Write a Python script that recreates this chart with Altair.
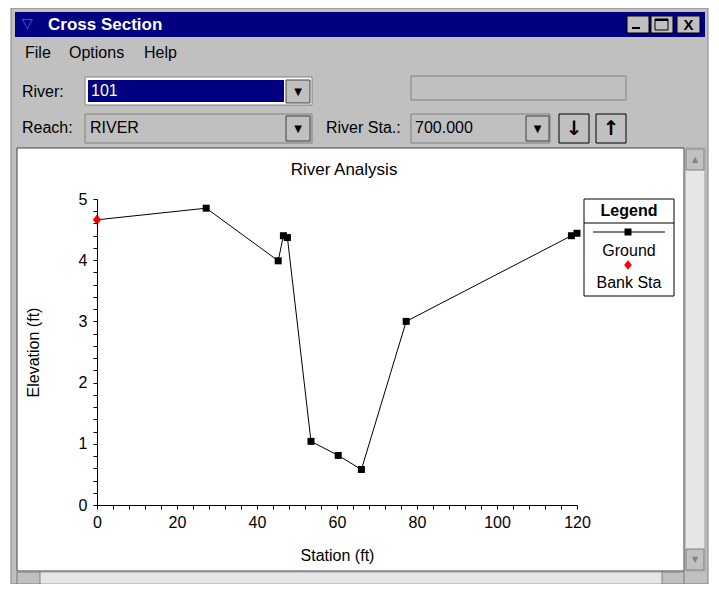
import altair as alt
import pandas as pd

# ---------------- data ----------------
station = [0.0, 27.3, 45.3, 46.6, 47.6, 53.5, 60.3, 66.1, 77.3, 118.6, 120.0]
elevation = [4.66, 4.85, 3.99, 4.40, 4.37, 1.04, 0.81, 0.58, 3.00, 4.40, 4.44]
bank_station = [0.0]
bank_elevation = [4.66]

chart_title = "River Analysis"
x_title = "Station (ft)"
y_title = "Elevation (ft)"
legend_title = "Legend"
legend_labels = ["Ground", "Bank Sta"]

window_title = "Cross Section"
menu_items = ["File", "Options", "Help"]
river_label, river_value = "River:", "101"
reach_label, reach_value = "Reach:", "RIVER"
sta_label, sta_value = "River Sta.:", "700.000"

x_tick_values = list(range(0, 121, 4))
y_tick_values = [round(i * 0.2, 1) for i in range(26)]

FONT = "Liberation Sans"
SYM = "DejaVu Sans"
DIAMOND = "M-1,0L0,-1.25L1,0L0,1.25Z"

# ---------------- layout ----------------
PAD_L, PAD_T, W, H = 89, 191, 480, 306
TOTAL_W, TOTAL_H = 703, 576
OX, OY = 8 + PAD_L, 8 + PAD_T   # page position of plot origin

ONE = alt.Data(values=[{"a": 1}])


def rect(x0, y0, x1, y1, fill, stroke=None, sw=1):
    kw = dict(fill=fill)
    if stroke:
        kw.update(stroke=stroke, strokeWidth=sw)
    return alt.Chart(ONE).mark_rect(**kw).encode(
        x=alt.value(x0 - OX), x2=alt.value(x1 - OX),
        y=alt.value(y0 - OY), y2=alt.value(y1 - OY))


def hline(x0, x1, y, color="black", sw=1):
    return alt.Chart(ONE).mark_rule(color=color, strokeWidth=sw).encode(
        x=alt.value(x0 - OX), x2=alt.value(x1 - OX), y=alt.value(y - OY))


def text(x, y, s, size=16, bold=False, color="black", align="left", font=FONT):
    return alt.Chart(ONE).mark_text(
        text=s, fontSize=size, font=font, fontWeight="bold" if bold else "normal",
        color=color, align=align, baseline="middle").encode(
        x=alt.value(x - OX), y=alt.value(y - OY))


layers = []
# window
layers.append(rect(11, 8, 708, 584, "#c0c0c0", "#808080"))
layers.append(rect(15, 12, 705, 37, "#000080"))
layers.append(text(48, 25, window_title, size=17, bold=True, color="white"))
layers.append(text(22, 24, "▽", size=14, color="#4060ff", font=SYM))
for bx0, bx1 in [(627, 649), (651, 673), (677, 700)]:
    layers.append(rect(bx0, 16, bx1, 33, "#c0c0c0", "#000000"))
layers.append(rect(632, 27, 640, 29, "black"))
layers.append(rect(655, 19, 668, 30, "#c0c0c0", "black"))
layers.append(rect(655, 19, 668, 21, "black"))
layers.append(text(688.5, 25, "X", size=15, bold=True, align="center"))

# menu
for label, mx in zip(menu_items, [25, 69, 144]):
    layers.append(text(mx, 53, label))

# River row
layers.append(text(22, 92, river_label))
layers.append(rect(85, 77, 312, 105, "white", "#808080"))
layers.append(rect(88, 80, 284, 102, "#000080"))
layers.append(text(91, 91, river_value, color="white"))
layers.append(rect(286, 80, 310, 103, "#c0c0c0", "#404040"))
layers.append(text(298, 92, "▼", size=10, align="center", font=SYM))
layers.append(rect(411, 76, 626, 100, "#c0c0c0", "#808080"))

# Reach row
layers.append(text(22, 128, reach_label))
layers.append(rect(85, 114, 312, 143, "#c0c0c0", "#808080"))
layers.append(text(90, 128, reach_value))
layers.append(rect(286, 116, 310, 141, "#c0c0c0", "#404040"))
layers.append(text(298, 129, "▼", size=10, align="center", font=SYM))
layers.append(text(326, 128, sta_label))
layers.append(rect(411, 114, 550, 143, "#c0c0c0", "#808080"))
layers.append(text(415, 128, sta_value))
layers.append(rect(526, 116, 549, 141, "#c0c0c0", "#404040"))
layers.append(text(537.5, 129, "▼", size=10, align="center", font=SYM))
layers.append(rect(559, 114, 589, 143, "#c0c0c0", "black"))
layers.append(rect(596, 114, 626, 143, "#c0c0c0", "black"))
layers.append(text(574, 129, "↓", size=20, bold=True, align="center", font=SYM))
layers.append(text(611, 129, "↑", size=20, bold=True, align="center", font=SYM))

# chart panel + scrollbars
layers.append(rect(17, 148, 684, 571, "white", "#404040"))
layers.append(rect(685, 148, 705, 571, "#e6e6e6", "#a0a0a0"))
layers.append(rect(686, 149, 704, 170, "#c0c0c0", "#808080"))
layers.append(text(695, 160, "▲", size=8, color="#808080", align="center", font=SYM))
layers.append(rect(686, 549, 704, 570, "#c0c0c0", "#808080"))
layers.append(text(695, 560, "▼", size=8, color="#808080", align="center", font=SYM))
layers.append(rect(17, 572, 684, 584, "#e6e6e6", "#a0a0a0"))
layers.append(rect(17, 572, 40, 584, "#c0c0c0", "#808080"))
layers.append(rect(662, 572, 684, 584, "#c0c0c0", "#808080"))

# chart title
layers.append(text(344, 170, chart_title, size=17, align="center"))

# ---------------- data layers ----------------
ground = pd.DataFrame({"station": station, "elevation": elevation,
                       "order": list(range(len(station)))})
bank = pd.DataFrame({"station": bank_station, "elevation": bank_elevation})

x_enc = alt.X("station:Q", title=x_title,
              scale=alt.Scale(domain=[0, 120], nice=False, zero=False),
              axis=alt.Axis(values=x_tick_values, grid=False, zindex=1,
                            labelExpr="datum.value % 20 == 0 ? datum.label : ''",
                            tickSize=4, labelPadding=5, titlePadding=17,
                            domainColor="black", tickColor="black",
                            labelColor="black", titleColor="black",
                            labelFont=FONT, titleFont=FONT, labelFontSize=16,
                            titleFontSize=16, titleFontWeight="normal",
                            labelFlush=False))
y_enc = alt.Y("elevation:Q", title=y_title,
              scale=alt.Scale(domain=[0, 5], nice=False, zero=False),
              axis=alt.Axis(values=y_tick_values, grid=False, zindex=1,
                            labelExpr="abs(datum.value - round(datum.value)) < 0.001 ? format(datum.value, 'd') : ''",
                            tickSize=4, labelPadding=6, titlePadding=37,
                            domainColor="black", tickColor="black",
                            labelColor="black", titleColor="black",
                            labelFont=FONT, titleFont=FONT, labelFontSize=16,
                            titleFontSize=16, titleFontWeight="normal",
                            labelFlush=False))

line = alt.Chart(ground).mark_line(color="black", strokeWidth=1).encode(
    x=x_enc, y=y_enc, order="order:Q")
# the point at a bank station is drawn as the red bank marker only
squares = alt.Chart(ground).mark_square(color="black", size=49, opacity=1).encode(
    x=x_enc, y=y_enc).transform_filter(alt.datum.station > 0)
banks = alt.Chart(bank).mark_point(shape=DIAMOND, filled=True,
                                   color="red", size=70, opacity=1).encode(
    x=x_enc, y=y_enc)
layers += [line, squares, banks]

# ---------------- legend box ----------------
layers.append(rect(584, 199, 674, 296, "white", "black"))
layers.append(hline(584, 674, 223))
layers.append(text(629, 211, legend_title, bold=True, align="center"))
layers.append(hline(593, 665, 232))
layers.append(alt.Chart(ONE).mark_square(color="black", size=49, opacity=1).encode(
    x=alt.value(628 - OX), y=alt.value(232 - OY)))
layers.append(text(629, 251, legend_labels[0], align="center"))
layers.append(alt.Chart(ONE).mark_point(shape=DIAMOND, filled=True,
                                        color="red", size=60, opacity=1).encode(
    x=alt.value(628 - OX), y=alt.value(265 - OY)))
layers.append(text(629, 283, legend_labels[1], align="center"))

chart = alt.layer(*layers).properties(
    width=W, height=H,
    padding={"left": PAD_L, "top": PAD_T,
             "right": TOTAL_W - PAD_L - W, "bottom": TOTAL_H - PAD_T - H},
    autosize=alt.AutoSizeParams(type="none"),
).configure_view(stroke=None).configure(background="white")

chart.save("out.html", embed_options={"renderer": "svg", "actions": False})
